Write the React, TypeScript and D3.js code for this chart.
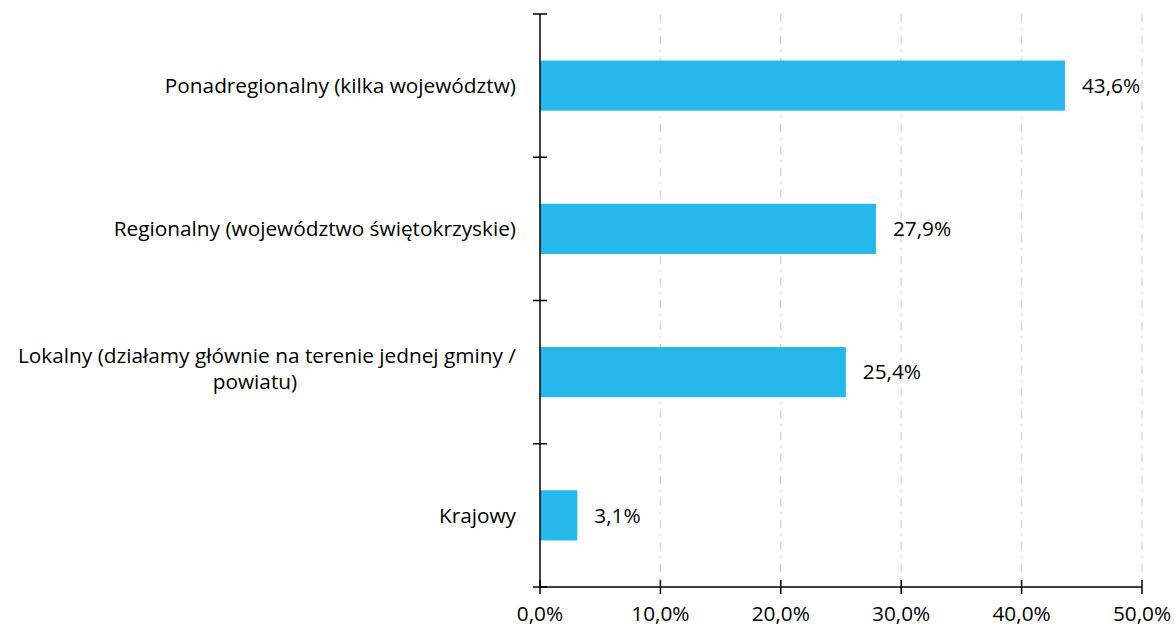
import React from "react";
import * as d3 from "d3";

const categories: string[][] = [
  ["Ponadregionalny (kilka województw)"],
  ["Regionalny (województwo świętokrzyskie)"],
  ["Lokalny (działamy głównie na terenie jednej gminy /", "powiatu)"],
  ["Krajowy"],
];
const values: number[] = [0.436, 0.279, 0.254, 0.031];
const valueLabels: string[] = ["43,6%", "27,9%", "25,4%", "3,1%"];
const xTicks: number[] = [0, 0.1, 0.2, 0.3, 0.4, 0.5];
const xTickLabels: string[] = ["0,0%", "10,0%", "20,0%", "30,0%", "40,0%", "50,0%"];

const W = 1175;
const H = 628;
const FONT = "'Open Sans', 'Noto Sans', sans-serif";
const FS = 20.8;
const BAR = "#26B8EB";

export default function App() {
  const ids = categories.map((_, i) => String(i));
  const x = d3.scaleLinear().domain([0, 0.5]).range([540, 1142]);
  const y = d3.scaleBand<string>().domain(ids).range([14, 587]).paddingInner(0.65).paddingOuter(0.325);
  const step = y.step();
  const y0 = 14;
  const yBottom = 587;
  const boundaries = d3.range(categories.length + 1).map((i) => y0 + i * step);

  return (
    <div style={{ position: "absolute", left: 0, top: 0 }}>
      <svg width={W} height={H} style={{ display: "block", background: "#fff" }}>
        {xTicks.slice(1).map((t) => (
          <line key={"g" + t} x1={x(t)} x2={x(t)} y1={y0} y2={yBottom} stroke="#d9d9d9" strokeWidth={1.5} strokeDasharray="8,6,1.5,6.5" />
        ))}
        {values.map((v, i) => (
          <rect key={"b" + i} x={x(0)} y={y(ids[i])} width={x(v) - x(0)} height={y.bandwidth()} fill={BAR} />
        ))}
        {values.map((v, i) => (
          <text key={"v" + i} x={x(v) + 17} y={(y(ids[i]) as number) + y.bandwidth() / 2} dy="0.35em" fontFamily={FONT} fontSize={FS} fill="#000">
            {valueLabels[i]}
          </text>
        ))}
        <line x1={x(0)} x2={x(0)} y1={y0} y2={yBottom} stroke="#000" strokeWidth={1.5} />
        {boundaries.map((b, i) => (
          <line key={"yt" + i} x1={x(0) - 7} x2={x(0) + 7} y1={b} y2={b} stroke="#000" strokeWidth={1.5} />
        ))}
        <line x1={x(0)} x2={x(0.5)} y1={yBottom} y2={yBottom} stroke="#000" strokeWidth={1.5} />
        {xTicks.map((t) => (
          <line key={"xt" + t} x1={x(t)} x2={x(t)} y1={yBottom - 7} y2={yBottom + 7} stroke="#000" strokeWidth={1.5} />
        ))}
        {xTicks.map((t, i) => (
          <text key={"xl" + t} x={x(t)} y={621} textAnchor="middle" fontFamily={FONT} fontSize={FS} fill="#000">
            {xTickLabels[i]}
          </text>
        ))}
        {categories.map((lines, i) => {
          const cy = (y(ids[i]) as number) + y.bandwidth() / 2;
          const lh = 26;
          const startY = lines.length > 1 ? cy - ((lines.length - 1) * lh) / 2 - 3 : cy;
          return (
            <text key={"c" + i} fontFamily={FONT} fontSize={FS} fill="#000">
              {lines.map((l, j) => (
                <tspan key={j} x={j === 0 ? 516 : 255} y={startY + j * lh} dy="0.35em" textAnchor={j === 0 ? "end" : "middle"}>
                  {l}
                </tspan>
              ))}
            </text>
          );
        })}
      </svg>
    </div>
  );
}
